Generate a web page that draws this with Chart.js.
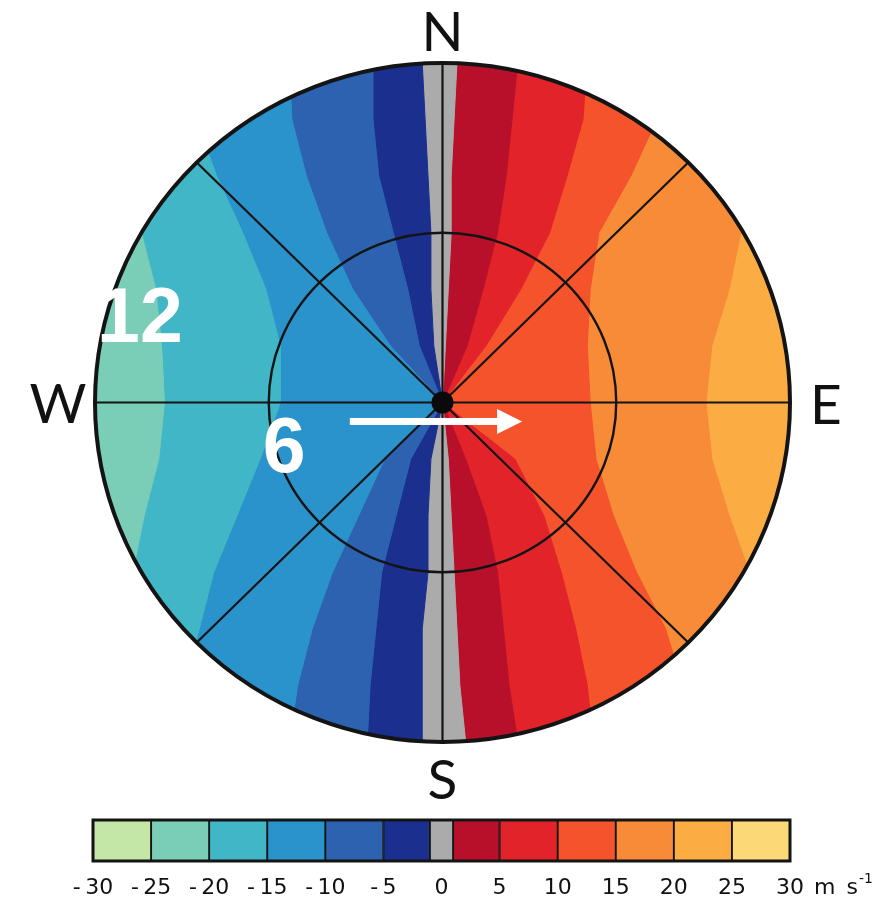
<!DOCTYPE html>
<html>
<head>
<meta charset="utf-8">
<script src="https://cdn.jsdelivr.net/npm/chart.js@4.4.1/dist/chart.umd.min.js"></script>
<style>
  html, body { margin: 0; padding: 0; background: #fff; }
  #wrap { position: relative; width: 888px; height: 911px; background: #fff; }
  #map { position: absolute; left: 0; top: 0; }
  #bar { position: absolute; left: 0; top: 800px; }
</style>
</head>
<body>
<div id="wrap">
  <canvas id="map" width="888" height="911"></canvas>
  <canvas id="bar" width="888" height="111"></canvas>
</div>
<script>
// Rows (km north of the radar, negative = south) on which each isotach is sampled
const rowsKm = [12, 10, 8, 6, 4, 2, 0, -2, -4, -6, -8, -10, -12];

// East-west position (km) of each radial-velocity isotach along those rows
const isoM20 = [-11.8, -11.5, -11.1, -10.4, -9.9, -9.7, -9.6, -9.8, -10.3, -10.7, -11.1, -11.5, -11.8];
const isoM15 = [-9.2, -8.5, -7.8, -6.9, -6.1, -5.6, -5.6, -6.3, -7.1, -7.9, -8.4, -8.9, -9.2];
const isoM10 = [-5.3, -5.2, -4.7, -4.0, -3.1, -1.8, 0, -2.0, -2.9, -3.8, -4.5, -5.0, -5.3];
const isoM5  = [-2.4, -2.4, -2.2, -1.7, -1.2, -0.8, 0, -1.1, -1.6, -2.1, -2.3, -2.5, -2.6];
const isoM1  = [-0.7, -0.6, -0.5, -0.4, -0.4, -0.3, 0, -0.4, -0.5, -0.5, -0.7, -0.7, -0.7];
const isoP1  = [0.5, 0.4, 0.3, 0.3, 0.2, 0.1, 0, 0.2, 0.3, 0.4, 0.5, 0.6, 0.8];
const isoP5  = [2.6, 2.4, 2.2, 1.9, 1.4, 0.85, 0, 0.8, 1.5, 1.9, 2.1, 2.3, 2.6];
const isoP10 = [5.0, 4.85, 4.3, 3.7, 2.7, 1.5, 0, 2.5, 3.5, 4.1, 4.6, 5.0, 5.2];
const isoP15 = [8.2, 7.4, 6.5, 5.4, 5.1, 5.0, 5.1, 5.3, 5.9, 6.7, 7.7, 8.3, 8.9];
const isoP20 = [12.0, 11.2, 10.8, 10.3, 9.9, 9.3, 9.1, 9.3, 9.9, 10.6, 11.3, 12.0, 12.3];

// Colour classes (m s-1): limits and fills
const classLimits = [-30, -25, -20, -15, -10, -5, -1, 1, 5, 10, 15, 20, 25, 30];
const classColors = ['#c4e6a7', '#7acdb6', '#41b6c6', '#2b93cb', '#2c62b0', '#1b2f8f',
                     '#ababab', '#b8102b', '#e2242a', '#f4532b', '#f88b37', '#fbad44', '#fcd877'];
const tickValues = [-30, -25, -20, -15, -10, -5, 0, 5, 10, 15, 20, 25, 30];

// Display grid
const rangeRingsKm = [6, 12];
const spokeAnglesDeg = [0, 45, 90, 135];
const compassPoints = ['N', 'E', 'S', 'W'];
const ringLabels = ['6', '12'];

// Bands of the PPI: west/east open edges, then the isotachs in between
const WEST = rowsKm.map(() => -12.6);
const EAST = rowsKm.map(() => 12.6);
const bandEdges = [WEST, isoM20, isoM15, isoM10, isoM5, isoM1, isoP1, isoP5, isoP10, isoP15, isoP20, EAST];
const bandClass = [1, 2, 3, 4, 5, 6, 7, 8, 9, 10, 11];

function bandPolygon(left, right) {
  const pts = rowsKm.map((y, i) => ({ x: left[i], y }));
  for (let i = rowsKm.length - 1; i >= 0; i--) pts.push({ x: right[i], y: rowsKm[i] });
  return pts;
}

const bandDatasets = bandClass.map((cls, k) => ({
  data: bandPolygon(bandEdges[k], bandEdges[k + 1]),
  showLine: true,
  fill: 'shape',
  backgroundColor: classColors[cls],
  borderColor: classColors[cls],
  borderWidth: 1,
  pointRadius: 0,
  pointHoverRadius: 0,
  tension: 0
}));

// Restrict the velocity field to the 12 km disc
const discClip = {
  id: 'discClip',
  beforeDatasetsDraw(chart) {
    const { ctx, scales: { x, y } } = chart;
    const cx = x.getPixelForValue(0), cy = y.getPixelForValue(0);
    ctx.save();
    ctx.beginPath();
    ctx.ellipse(cx, cy, x.getPixelForValue(12) - cx, cy - y.getPixelForValue(12), 0, 0, Math.PI * 2);
    ctx.clip();
  },
  afterDatasetsDraw(chart) { chart.ctx.restore(); }
};

// Range rings, azimuth spokes, radar site, wind arrow and labels
const ppiOverlay = {
  id: 'ppiOverlay',
  afterDraw(chart) {
    const { ctx, scales: { x, y }, chartArea: a } = chart;
    const px = v => x.getPixelForValue(v), py = v => y.getPixelForValue(v);
    const cx = px(0), cy = py(0);
    const rmax = rangeRingsKm[rangeRingsKm.length - 1];
    ctx.save();
    ctx.strokeStyle = '#141414';
    ctx.lineCap = 'butt';
    // spokes
    ctx.lineWidth = 2.2;
    spokeAnglesDeg.forEach(d => {
      const t = d * Math.PI / 180;
      ctx.beginPath();
      ctx.moveTo(px(rmax * Math.cos(t)), py(rmax * Math.sin(t)));
      ctx.lineTo(px(-rmax * Math.cos(t)), py(-rmax * Math.sin(t)));
      ctx.stroke();
    });
    // rings
    rangeRingsKm.forEach((r, i) => {
      ctx.lineWidth = i === rangeRingsKm.length - 1 ? 4 : 2.4;
      ctx.beginPath();
      ctx.ellipse(cx, cy, px(r) - cx, cy - py(r), 0, 0, Math.PI * 2);
      ctx.stroke();
    });
    // radar site
    ctx.fillStyle = '#0a0a0a';
    ctx.beginPath();
    ctx.arc(cx, cy, 11, 0, Math.PI * 2);
    ctx.fill();

    // wind arrow (westerly flow)
    const ay = py(-0.67), ax0 = px(-3.2), ax1 = px(2.75);
    ctx.fillStyle = '#ffffff';
    ctx.fillRect(ax0, ay - 3.5, ax1 - ax0 - 22, 7);
    ctx.beginPath();
    ctx.moveTo(ax1, ay);
    ctx.lineTo(ax1 - 25, ay - 12.5);
    ctx.lineTo(ax1 - 25, ay + 12.5);
    ctx.closePath();
    ctx.fill();

    // range ring labels
    ctx.font = 'bold 77px "Liberation Sans", Arial, sans-serif';
    ctx.textAlign = 'center';
    ctx.textBaseline = 'alphabetic';
    ctx.fillText(ringLabels[0], px(-5.47), py(-1.5) + 27);
    ctx.fillText(ringLabels[1], px(-10.45), py(3.1) + 27);

    // compass points
    ctx.fillStyle = '#111';
    ctx.font = '400 55px Lato, "DejaVu Sans", sans-serif';
    ctx.fillText(compassPoints[0], cx, a.top - 12);
    ctx.fillText(compassPoints[1], a.right + 36, cy + 21);
    ctx.fillText(compassPoints[2], cx, a.bottom + 57);
    ctx.fillText(compassPoints[3], a.left - 37, cy + 20);
    ctx.restore();
  }
};

new Chart(document.getElementById('map'), {
  type: 'scatter',
  data: { datasets: bandDatasets },
  options: {
    responsive: false,
    animation: false,
    events: [],
    layout: { padding: { left: 95, right: 98, top: 63, bottom: 169 } },
    plugins: { legend: { display: false }, tooltip: { enabled: false } },
    scales: {
      x: { type: 'linear', min: -12, max: 12, display: false },
      y: { type: 'linear', min: -12, max: 12, display: false }
    }
  },
  plugins: [discClip, ppiOverlay]
});

// Colour bar frame and unit
const barDecor = {
  id: 'barDecor',
  afterDraw(chart) {
    const { ctx, chartArea: a } = chart;
    ctx.save();
    ctx.strokeStyle = '#141414';
    ctx.lineWidth = 3;
    ctx.strokeRect(a.left, a.top, a.right - a.left, a.bottom - a.top);
    ctx.fillStyle = '#111';
    ctx.textBaseline = 'middle';
    ctx.textAlign = 'left';
    ctx.font = '22px "DejaVu Sans", sans-serif';
    const ty = a.bottom + 14 + 13;
    const x0 = a.right + 24;
    ctx.fillText('m\u2002s', x0, ty);
    const w = ctx.measureText('m\u2002s').width;
    ctx.font = '14px "DejaVu Sans", sans-serif';
    ctx.fillText('-1', x0 + w + 1, ty - 9);
    ctx.restore();
  }
};

new Chart(document.getElementById('bar'), {
  type: 'bar',
  data: {
    labels: [''],
    datasets: classColors.map((c, i) => ({
      data: [[classLimits[i], classLimits[i + 1]]],
      backgroundColor: c,
      borderColor: '#141414',
      borderWidth: 1.3,
      borderSkipped: false,
      grouped: false,
      barPercentage: 1,
      categoryPercentage: 1
    }))
  },
  options: {
    indexAxis: 'y',
    responsive: false,
    animation: false,
    events: [],
    layout: { padding: { left: 93, right: 98, top: 20, bottom: 9 } },
    plugins: { legend: { display: false }, tooltip: { enabled: false } },
    scales: {
      x: {
        type: 'linear', min: -30, max: 30,
        afterBuildTicks: s => { s.ticks = tickValues.map(v => ({ value: v })); },
        grid: { display: false, drawTicks: false },
        border: { display: false },
        ticks: {
          padding: 14, color: '#111', autoSkip: false, maxRotation: 0,
          font: { family: '"DejaVu Sans", sans-serif', size: 22 },
          callback: v => (v < 0 ? '-\u2009' + Math.abs(v) : String(v))
        }
      },
      y: { display: false }
    }
  },
  plugins: [barDecor]
});
</script>
</body>
</html>
